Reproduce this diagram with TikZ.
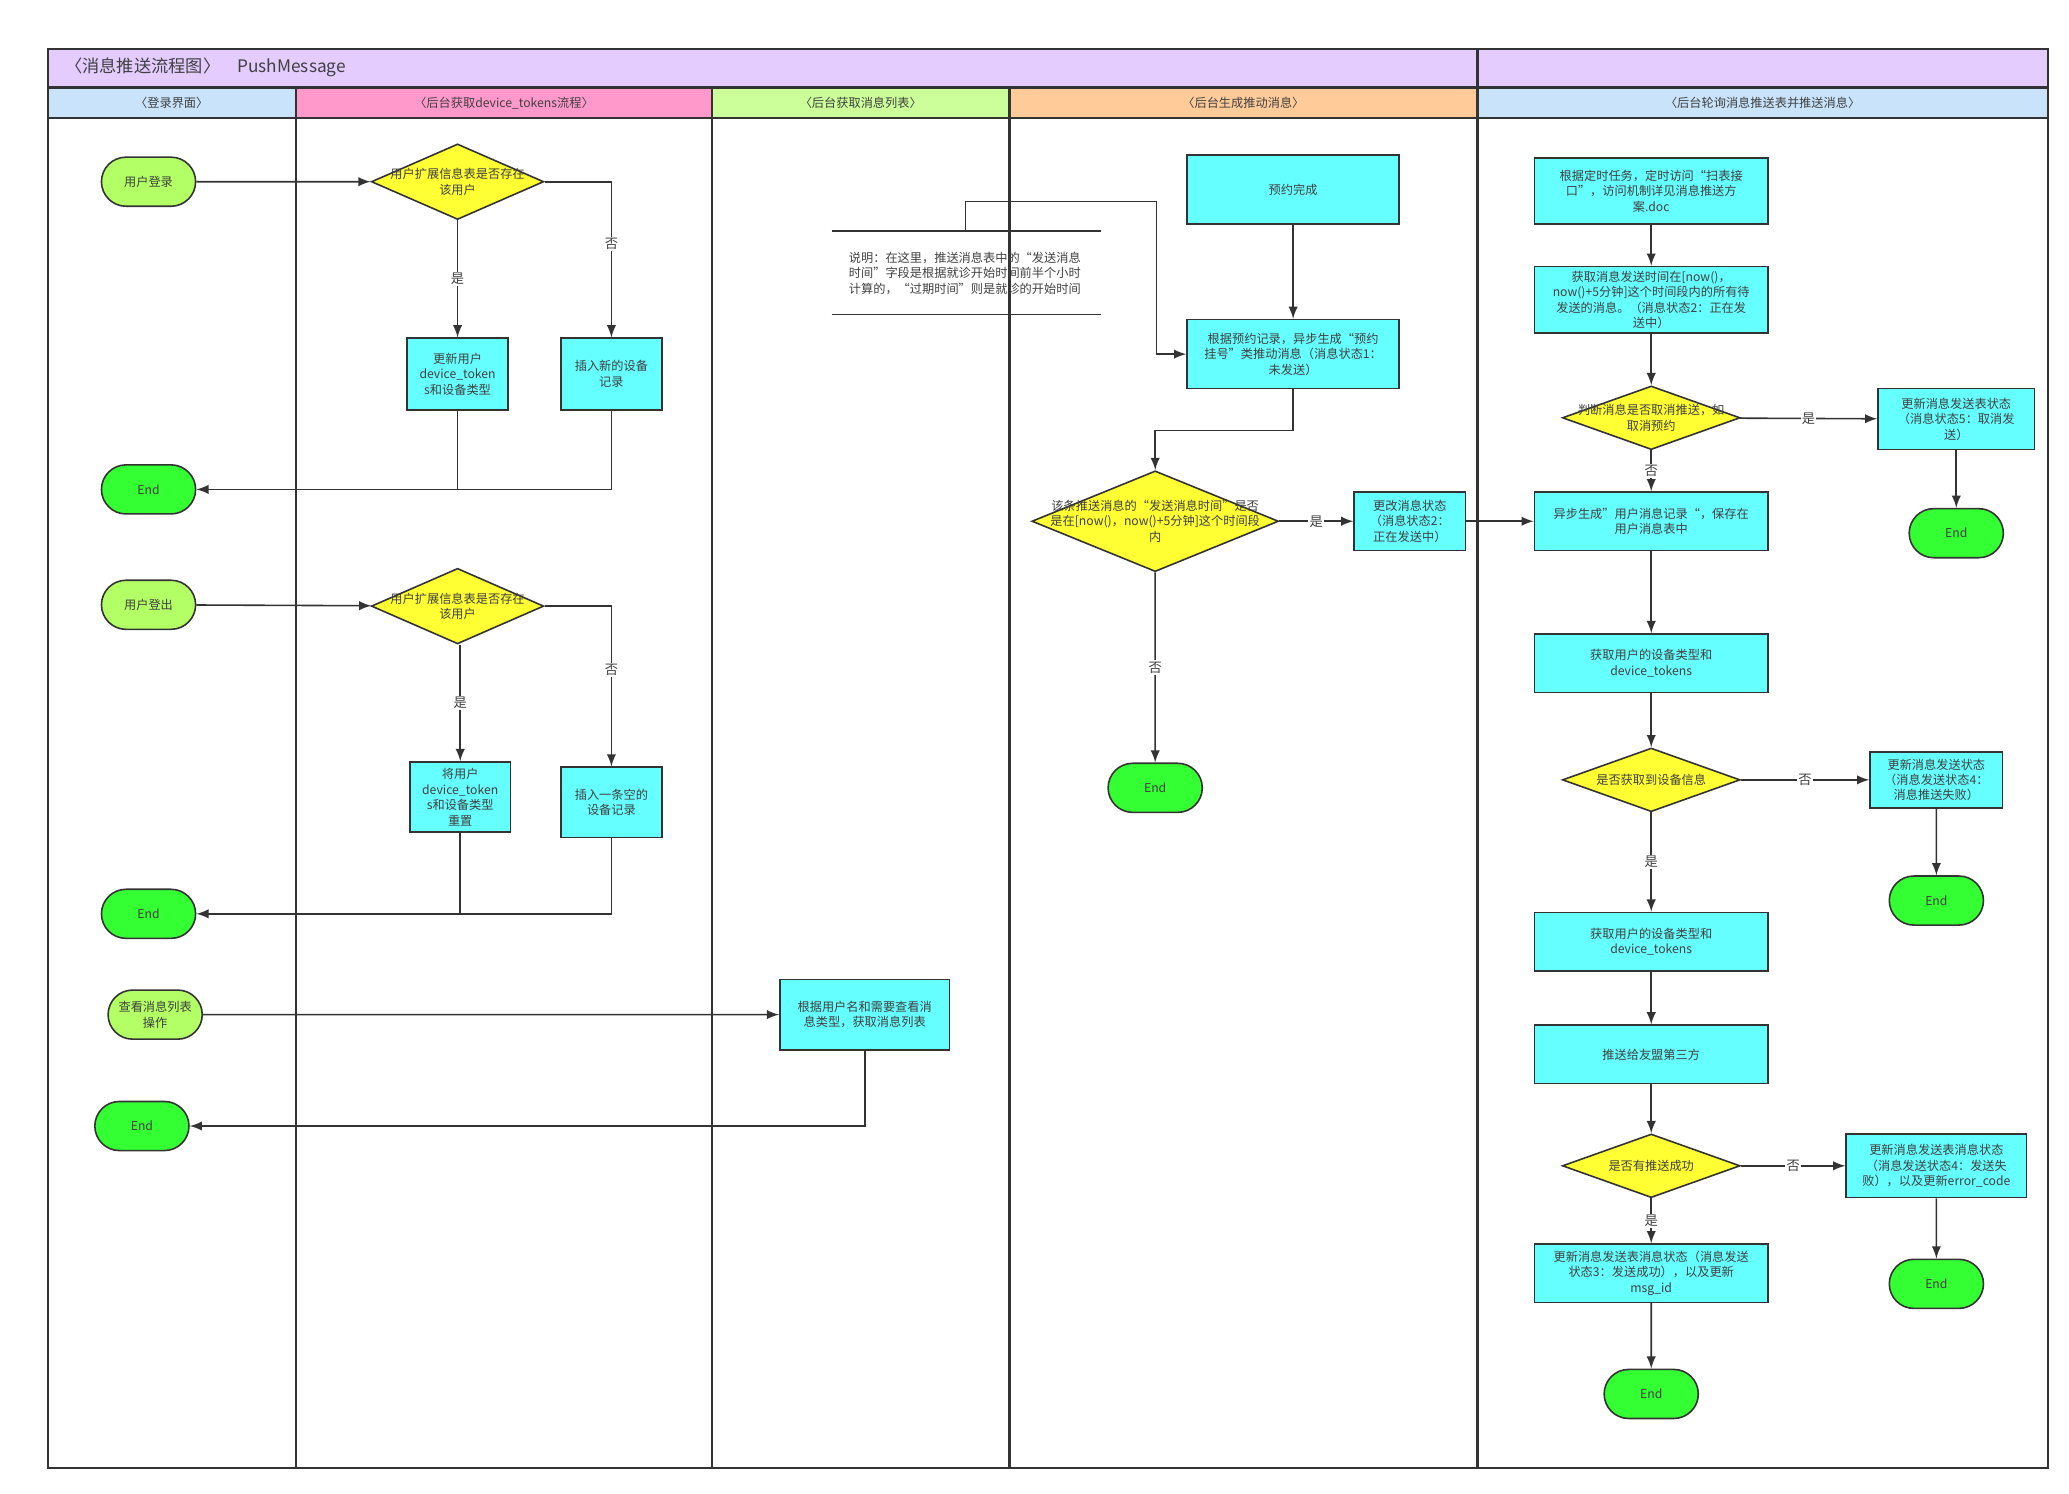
\documentclass[tikz,border=0pt]{standalone}
\usepackage{fontspec}
\setmainfont{Noto Sans CJK SC}
\usetikzlibrary{shapes.geometric,shapes.misc}
\definecolor{hdpurple}{HTML}{E5CCFF}
\definecolor{hdblue}{HTML}{C9E3FB}
\definecolor{hdpink}{HTML}{FF99CC}
\definecolor{hdgreen}{HTML}{CCFF99}
\definecolor{hdorange}{HTML}{FFCC99}
\definecolor{boxcyan}{HTML}{66FFFF}
\definecolor{decyellow}{HTML}{FFFF33}
\definecolor{endgreen}{HTML}{33FF33}
\definecolor{startlime}{HTML}{B3FF66}
\definecolor{edge}{HTML}{333333}
\tikzset{
  every node/.style={font=\fontsize{4.6}{5.8}\selectfont, text=black!75},
  box/.style={draw=edge, line width=0.6pt, fill=boxcyan, align=center, inner sep=1pt},
  dec/.style={draw=edge, line width=0.6pt, fill=decyellow, diamond, inner sep=0pt},
  term/.style={draw=edge, line width=0.6pt, rounded rectangle, minimum width=37.5pt, minimum height=18.5pt, align=center, inner sep=1pt},
  start/.style={term, fill=startlime},
  stop/.style={term, fill=endgreen},
  flow/.style={draw=edge, line width=0.6pt, -latex},
  line/.style={draw=edge, line width=0.6pt},
  tag/.style={fill=white, inner sep=0.5pt, font=\fontsize{5}{6}\selectfont}
}
\begin{document}
\begin{tikzpicture}[x=0.5pt, y=-0.5pt]
	\useasboundingbox (0,0) rectangle (1560,1126);
	% lanes
	\fill[hdpurple] (36,37) rectangle (1544,66);
	\fill[hdblue] (36,66) rectangle (223,89);
	\fill[hdpink] (223,66) rectangle (537,89);
	\fill[hdgreen] (537,66) rectangle (761,89);
	\fill[hdorange] (761,66) rectangle (1114,89);
	\fill[hdblue] (1114,66) rectangle (1544,89);
	\draw[edge, line width=0.9pt] (36,37) rectangle (1544,1107);
	\draw[edge, line width=0.9pt] (36,66) -- (1544,66) (36,89) -- (1544,89);
	\foreach \lx in {223,537,761} \draw[edge, line width=0.9pt] (\lx,66) -- (\lx,1107);
	\draw[edge, line width=0.9pt] (1114,37) -- (1114,1107);
	\node[anchor=west, font=\fontsize{6.5}{8}\selectfont] (title) at (42,51) {〈消息推送流程图〉\quad\textit{PushMessage}};
	\node (h1) at (129.5,77.5) {〈登录界面〉};
	\node (h2) at (380,77.5) {〈后台获取device\_tokens流程〉};
	\node (h3) at (649,77.5) {〈后台获取消息列表〉};
	\node (h4) at (937.5,77.5) {〈后台生成推动消息〉};
	\node (h5) at (1329,77.5) {〈后台轮询消息推送表并推送消息〉};

	% login lane
	\node[start] (login) at (112,137) {用户登录};
	\node[stop] (end1) at (112,369) {End};
	\node[start] (logout) at (112,456) {用户登出};
	\node[stop] (end2) at (112,689) {End};
	\node[start] (view) at (117,765) {查看消息列表\\操作};
	\node[stop] (end3) at (107,849) {End};

	% device tokens lane
	\node[dec, minimum width=65pt, minimum height=28.5pt, label={[align=center]center:用户扩展信息表是否存在\\该用户}] (ask1) at (345,137) {};
	\node[box, minimum width=38pt, minimum height=27pt] (upd1) at (345,282) {更新用户\\device\_token\\s和设备类型};
	\node[box, minimum width=38pt, minimum height=27pt] (ins1) at (461,282) {插入新的设备\\记录};
	\node[dec, minimum width=65pt, minimum height=28.5pt, label={[align=center]center:用户扩展信息表是否存在\\该用户}] (ask2) at (345,457) {};
	\node[box, minimum width=38pt, minimum height=26.5pt] (upd2) at (347,601) {将用户\\device\_token\\s和设备类型\\重置};
	\node[box, minimum width=38pt, minimum height=26.5pt] (ins2) at (461,605) {插入一条空的\\设备记录};

	% message list lane
	\node[box, minimum width=64pt, minimum height=26.5pt] (list) at (652,765) {根据用户名和需要查看消\\息类型，获取消息列表};
	\draw[line] (627,174) -- (830,174) (627,237) -- (830,237);
	\coordinate (noteTop) at (728,174);
	\node[align=left, anchor=west] (note) at (633,206) {说明：在这里，推送消息表中的“发送消息\\时间”字段是根据就诊开始时间前半个小时\\计算的，“过期时间”则是就诊的开始时间};

	% generate lane
	\node[box, minimum width=80pt, minimum height=26pt] (done) at (975,143) {预约完成};
	\node[box, minimum width=80pt, minimum height=26pt] (gen) at (975,267) {根据预约记录，异步生成“预约\\挂号”类推动消息（消息状态1：\\未发送）};
	\node[dec, minimum width=93pt, minimum height=38pt, label={[align=center]center:该条推送消息的“发送消息时间”是否\\是在[now()，now()+5分钟]这个时间段\\内}] (ask3) at (871,393) {};
	\node[box, minimum width=42pt, minimum height=22pt] (chg) at (1063,393) {更改消息状态\\（消息状态2：\\正在发送中）};
	\node[stop] (end4) at (871,594) {End};

	% polling lane
	\node[box, minimum width=88pt, minimum height=25pt] (timer) at (1245,144) {根据定时任务，定时访问“扫表接\\口”，访问机制详见消息推送方\\案.doc};
	\node[box, minimum width=88pt, minimum height=25pt] (fetch) at (1245,226) {获取消息发送时间在[now()，\\now()+5分钟]这个时间段内的所有待\\发送的消息。（消息状态2：正在发\\送中）};
	\node[dec, minimum width=67pt, minimum height=24pt, label={[align=center]center:判断消息是否取消推送，如\\取消预约}] (ask4) at (1245,315) {};
	\node[box, minimum width=59pt, minimum height=23pt] (cancel) at (1475,316) {更新消息发送表状态\\（消息状态5：取消发\\送）};
	\node[stop] (end5) at (1475,402) {End};
	\node[box, minimum width=88pt, minimum height=22pt] (async) at (1245,393) {异步生成”用户消息记录“，保存在\\用户消息表中};
	\node[box, minimum width=88pt, minimum height=22pt] (dev1) at (1245,500) {获取用户的设备类型和\\device\_tokens};
	\node[dec, minimum width=67pt, minimum height=24pt, label={center:是否获取到设备信息}] (ask5) at (1245,588) {};
	\node[box, minimum width=50pt, minimum height=21pt] (fail1) at (1460,588) {更新消息发送状态\\（消息发送状态4：\\消息推送失败）};
	\node[stop] (end6) at (1460,679) {End};
	\node[box, minimum width=88pt, minimum height=22pt] (dev2) at (1245,710) {获取用户的设备类型和\\device\_tokens};
	\node[box, minimum width=88pt, minimum height=22pt] (push) at (1245,795) {推送给友盟第三方};
	\node[dec, minimum width=67pt, minimum height=24pt, label={center:是否有推送成功}] (ask6) at (1245,879) {};
	\node[box, minimum width=68pt, minimum height=24pt] (fail2) at (1460,879) {更新消息发送表消息状态\\（消息发送状态4：发送失\\败），以及更新error\_code};
	\node[stop] (end7) at (1460,968) {End};
	\node[box, minimum width=88pt, minimum height=22pt] (ok) at (1245,960) {更新消息发送表消息状态（消息发送\\状态3：发送成功），以及更新\\msg\_id};
	\node[stop] (end8) at (1245,1051) {End};

	% connectors
	\draw[flow] (login) -- (ask1);
	\draw[flow] (ask1) -- node[tag] {是} (upd1);
	\draw[flow] (ask1.east) -| node[tag, pos=0.7] {否} (ins1);
	\draw[line] (upd1.south) |- (end1.east -| ins1);
	\draw[flow] (ins1) |- (end1);
	\draw[flow] (logout) -- (ask2);
	\draw[flow] (ask2.south -| upd2) -- node[tag] {是} (upd2);
	\draw[flow] (ask2.east) -| node[tag, pos=0.7] {否} (ins2);
	\draw[line] (upd2.south) |- (end2.east -| ins2);
	\draw[flow] (ins2) |- (end2);
	\draw[flow] (view) -- (list);
	\draw[flow] (list) |- (end3);
	\draw[flow] (noteTop) -- ++(0,-22) -| (872,267) -- (gen.west);
	\draw[flow] (done) -- (gen);
	\draw[flow] (gen.south) -- ++(0,31) -| (ask3.north);
	\draw[flow] (ask3) -- node[tag] {是} (chg);
	\draw[flow] (ask3) -- node[tag] {否} (end4);
	\draw[flow] (chg) -- (async);
	\draw[flow] (timer) -- (fetch);
	\draw[flow] (fetch) -- (ask4);
	\draw[flow] (ask4) -- node[tag] {是} (cancel);
	\draw[flow] (cancel) -- (end5);
	\draw[flow] (ask4) -- node[tag] {否} (async);
	\draw[flow] (async) -- (dev1);
	\draw[flow] (dev1) -- (ask5);
	\draw[flow] (ask5) -- node[tag] {否} (fail1);
	\draw[flow] (fail1) -- (end6);
	\draw[flow] (ask5) -- node[tag] {是} (dev2);
	\draw[flow] (dev2) -- (push);
	\draw[flow] (push) -- (ask6);
	\draw[flow] (ask6) -- node[tag] {否} (fail2);
	\draw[flow] (fail2) -- (end7);
	\draw[flow] (ask6) -- node[tag] {是} (ok);
	\draw[flow] (ok) -- (end8);
\end{tikzpicture}
\end{document}
